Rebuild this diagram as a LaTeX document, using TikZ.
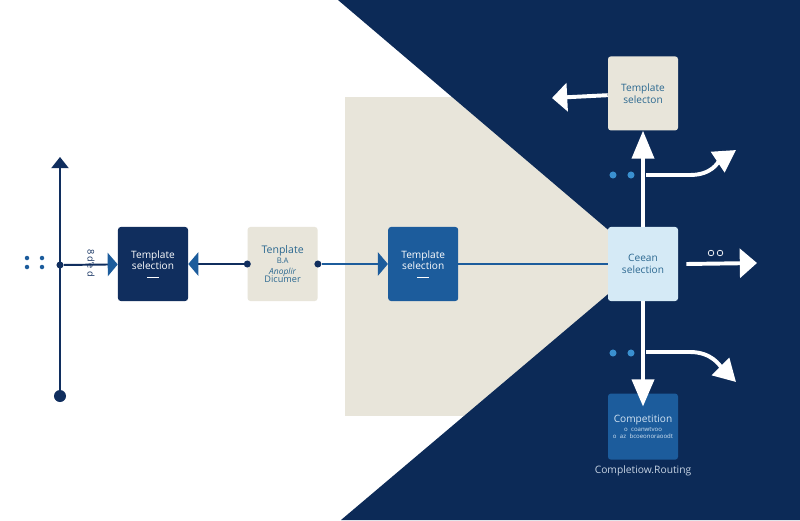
\documentclass[tikz,border=0pt]{standalone}
\usepackage{fontspec}
\setmainfont{Open Sans}
\usepackage{xcolor}
\usetikzlibrary{arrows.meta, positioning}

\definecolor{navy}{HTML}{0C2A57}
\definecolor{boxnavy}{HTML}{102E5E}
\definecolor{midblue}{HTML}{1C5C9C}
\definecolor{paleblue}{HTML}{D5EAF6}
\definecolor{sand}{HTML}{E8E5DA}
\definecolor{textteal}{HTML}{2B6890}
\definecolor{dotblue}{HTML}{3A90D0}
\definecolor{mist}{HTML}{C6D3E3}
\definecolor{icetext}{HTML}{D3E4F3}

\begin{document}
\begin{tikzpicture}[x=0.025cm, y=-0.025cm, node distance=1.5cm]
    % Define styles
    \tikzset{
        selbox/.style={rectangle, rounded corners=2pt, minimum width=1.75cm, minimum height=1.85cm, text width=1.6cm, align=center, inner sep=0pt, font=\fontsize{7.2}{8.5}\selectfont},
        darkbox/.style={selbox, fill=boxnavy, text=white},
        docbox/.style={selbox, fill=sand, text=textteal},
        bluebox/.style={selbox, fill=midblue, text=white},
        palebox/.style={selbox, fill=paleblue, text=textteal},
        navyline/.style={draw=boxnavy, line width=1.4pt},
        blueline/.style={draw=midblue, line width=1.4pt},
        whiteline/.style={draw=white, line width=2.8pt},
        bluetip/.style={-{Triangle[length=0.25cm, width=0.58cm, color=midblue]}},
        dot/.style={circle, fill=boxnavy, inner sep=0pt, minimum size=5pt}
    }

    % Background
    \useasboundingbox (0,0) rectangle (800,520);
    \fill[white] (0,0) rectangle (800,520);
    \fill[sand] (345,97) rectangle (640,416);
    \fill[navy] (338,0) -- (800,0) -- (800,520) -- (341,520) -- (646,262) -- cycle;

    % Nodes
    \node[darkbox] (selectA) at (153,264) {Template\\selection\\[-3pt]\rule{0.3cm}{0.5pt}};
    \node[docbox, right=1.475cm of selectA] (document) {{\fontsize{7.5}{8}\selectfont Tenplate}\\[-1.5pt]{\fontsize{5.5}{6}\selectfont B.A}\\[-0.5pt]{\fontsize{6}{6.5}\selectfont\itshape Anoplir}\\[-3pt]{\fontsize{6.5}{7}\selectfont Dicumer}};
    \node[bluebox, right=1.75cm of document] (selectB) {Template\\selection\\[-3pt]\rule{0.3cm}{0.5pt}};
    \node[palebox] (ceean) at (643,264) {Ceean\\selection};
    \node[docbox, above=2.4cm of ceean] (selectTop) {Template\\selecton};
    \node[bluebox, minimum height=1.65cm, below=2.3cm of ceean, text=icetext] (completion) {Competition\\[1pt]\fontsize{4.3}{5}\selectfont o coanwtvoo\\o az bcoeonoraoodt\par};
    \node[below=0.14cm of completion, inner sep=0pt, text=mist, font=\fontsize{7.3}{9}\selectfont] (routing) {Completiow.Routing};

    \node[dot] (hub) at (60,265) {};
    \node[dot, minimum size=0.3cm] (axisEnd) at (60,396) {};
    \node[dot] (docIn) at (document.west) {};
    \node[dot] (docOut) at (document.east) {};
    \node[rotate=-90, text=boxnavy, font=\fontsize{6.5}{7}\selectfont] (tag) at (91,263) {8 d'e d};

    \foreach \x in {27,42}
        \foreach \y in {258,267}
            \fill[midblue] (\x,\y) circle (1.6pt);
    \foreach \y in {175,353}
        \foreach \x in {613,631}
            \fill[dotblue] (\x,\y) circle (2.5pt);
    \draw[white, line width=0.5pt] (711,253) circle (2pt) (720,253) circle (2pt);

    % Arrows
    \coordinate (axisTop) at (60,157);
    \draw[navyline, -{Triangle[length=0.28cm, width=0.43cm]}] (axisEnd) -- (axisTop);
    \draw[navyline, bluetip] (hub) -- (selectA);
    \draw[navyline, bluetip] (docIn) -- (selectA);
    \draw[blueline, bluetip] (docOut) -- (selectB);
    \draw[blueline] (selectB) -- (ceean);

    \coordinate (outLeft) at (552,98);
    \coordinate (outRight) at (757,263);
    \coordinate (forkUp) at (646,175);
    \coordinate (upTip) at (736,150);
    \coordinate (forkDown) at (646,352);
    \coordinate (downTip) at (736,382);
    \draw[whiteline, -{Triangle[length=0.7cm, width=0.55cm]}] (ceean) -- (selectTop);
    \draw[whiteline, -{Triangle[length=0.38cm, width=0.7cm]}] (selectTop) -- (outLeft);
    \draw[whiteline, -{Triangle[length=0.43cm, width=0.72cm]}] ([xshift=0.2cm]ceean.east) -- (outRight);
    \draw[whiteline, shorten >=-0.33cm, -{Triangle[length=0.68cm, width=0.55cm]}] (ceean) -- (completion);
    \draw[whiteline, -{Triangle[length=0.55cm, width=0.6cm]}] (forkUp) -- (690,175) .. controls (712,175) and (718,162) .. (upTip);
    \draw[whiteline, -{Triangle[length=0.55cm, width=0.6cm]}] (forkDown) -- (690,352) .. controls (712,352) and (720,366) .. (downTip);
\end{tikzpicture}
\end{document}
